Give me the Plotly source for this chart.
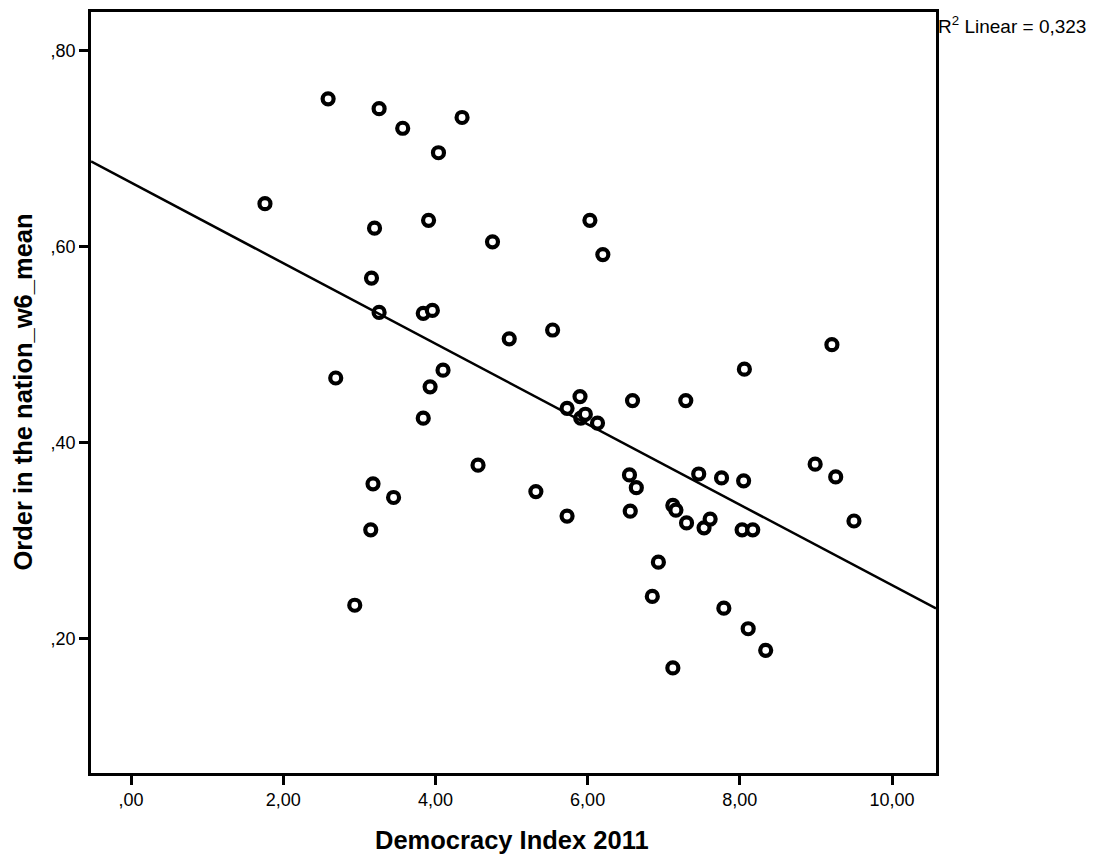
import plotly.graph_objects as go

# Data (Democracy Index 2011 vs Order in the nation_w6_mean)
democracy_index = [
    1.76, 2.59, 2.69, 2.94, 3.15, 3.18, 3.16, 3.20, 3.26, 3.26,
    3.45, 3.57, 3.84, 3.84, 3.91, 3.93, 3.96, 4.04, 4.10, 4.35,
    4.56, 4.75, 4.97, 5.32, 5.54, 5.73, 5.73, 5.90, 5.91, 5.97,
    6.03, 6.13, 6.20, 6.55, 6.56, 6.59, 6.64, 6.85, 6.93, 7.12,
    7.12, 7.16, 7.29, 7.30, 7.46, 7.53, 7.61, 7.76, 7.79, 8.03,
    8.05, 8.06, 8.11, 8.17, 8.34, 8.99, 9.21, 9.26, 9.50,
]
order_mean = [
    0.644, 0.751, 0.466, 0.234, 0.311, 0.358, 0.568, 0.619, 0.741, 0.533,
    0.344, 0.721, 0.532, 0.425, 0.627, 0.457, 0.535, 0.696, 0.474, 0.732,
    0.377, 0.605, 0.506, 0.350, 0.515, 0.435, 0.325, 0.447, 0.425, 0.429,
    0.627, 0.420, 0.592, 0.367, 0.330, 0.443, 0.354, 0.243, 0.278, 0.170,
    0.336, 0.331, 0.443, 0.318, 0.368, 0.313, 0.322, 0.364, 0.231, 0.311,
    0.361, 0.475, 0.210, 0.311, 0.188, 0.378, 0.500, 0.365, 0.320,
]

# Linear fit as drawn in the reference
fit_intercept = 0.6655
fit_slope = -0.04111
r2_text = "R<sup>2</sup> Linear = 0,323"

x_range = [-0.526, 10.578]
y_range = [0.0627, 0.8397]

x_tickvals = [0, 2, 4, 6, 8, 10]
x_ticktext = [",00", "2,00", "4,00", "6,00", "8,00", "10,00"]
y_tickvals = [0.2, 0.4, 0.6, 0.8]
y_ticktext = [",20", ",40", ",60", ",80"]

x_title = "Democracy Index 2011"
y_title = "Order in the nation_w6_mean"

FONT = "Liberation Sans, Arial, sans-serif"

fig = go.Figure()

fig.add_trace(go.Scatter(
    x=democracy_index, y=order_mean, mode="markers",
    marker=dict(symbol="circle", size=11, color="white",
                line=dict(color="black", width=4.2)),
    showlegend=False, cliponaxis=False,
))

fit_x = list(x_range)
fit_y = [fit_intercept + fit_slope * v for v in fit_x]
fig.add_trace(go.Scatter(
    x=fit_x, y=fit_y, mode="lines",
    line=dict(color="black", width=2.5),
    showlegend=False,
))

axis_common = dict(
    showgrid=False, zeroline=False, showline=True, linecolor="black",
    linewidth=2.5, mirror=True, ticks="outside", ticklen=9, tickwidth=3,
    tickcolor="black", tickfont=dict(family=FONT, size=18, color="black"),
)

fig.update_xaxes(range=x_range, tickvals=x_tickvals, ticktext=x_ticktext,
                 **axis_common)
fig.update_yaxes(range=y_range, tickvals=y_tickvals, ticktext=y_ticktext,
                 **axis_common)

plot_l, plot_r, plot_t, plot_b = 91, 936, 9, 773
W, H = 1096, 854
pw, ph = plot_r - plot_l, plot_b - plot_t

fig.update_layout(
    width=W, height=H,
    margin=dict(l=plot_l, r=W - plot_r, t=plot_t, b=H - plot_b, pad=0),
    paper_bgcolor="white", plot_bgcolor="white",
    font=dict(family=FONT, color="black"),
    annotations=[
        dict(text="<b>" + x_title + "</b>", xref="paper", yref="paper",
             x=(512 - plot_l) / pw, y=-(840 - plot_b) / ph,
             xanchor="center", yanchor="middle", showarrow=False,
             font=dict(family=FONT, size=25.5, color="black")),
        dict(text="<b>" + y_title + "</b>", xref="paper", yref="paper",
             x=(22 - plot_l) / pw, y=0.5, textangle=-90,
             xanchor="center", yanchor="middle", showarrow=False,
             font=dict(family=FONT, size=25.5, color="black")),
        dict(text=r2_text, xref="paper", yref="paper",
             x=1.0, y=1.0 - (22 - plot_t) / ph,
             xanchor="left", yanchor="middle", showarrow=False,
             font=dict(family=FONT, size=19, color="black")),
    ],
)

fig.write_html("out.html")
